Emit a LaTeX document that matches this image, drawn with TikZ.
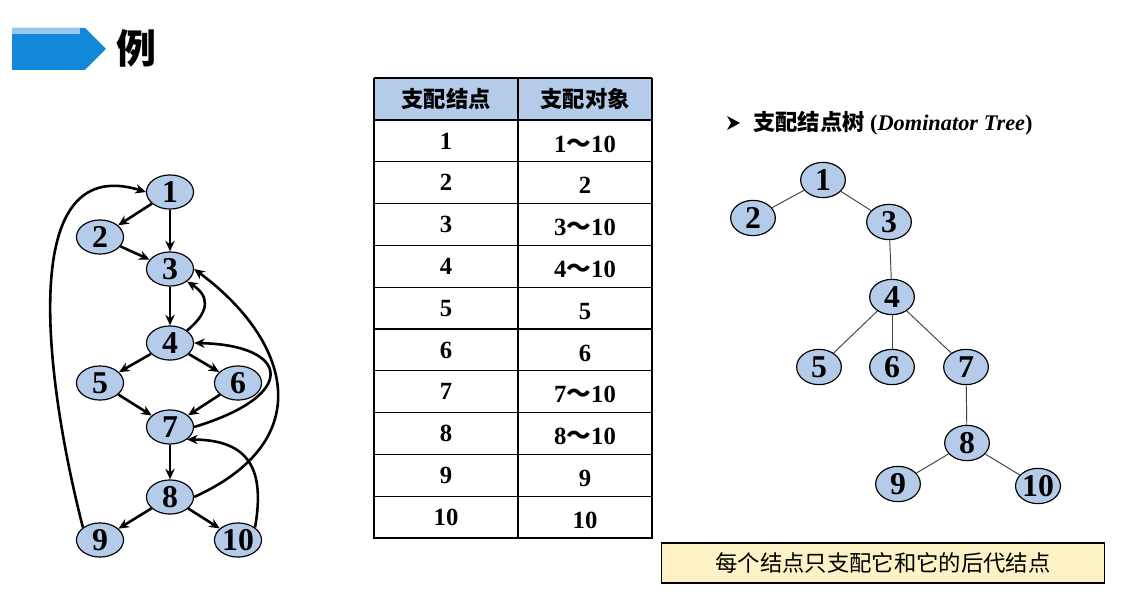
\documentclass[tikz,border=0pt]{standalone}
\usepackage{fontspec}
\setmainfont{Liberation Serif}
\newfontfamily\cjk{Noto Sans CJK SC}
\definecolor{nodeblue}{HTML}{B4CCEA}
\definecolor{bannerblue}{HTML}{1188D8}
\definecolor{notebg}{HTML}{FDF2C6}
\tikzstyle{vtx} = [draw,line width=1pt,fill=nodeblue,ellipse,minimum width=40pt,minimum height=29pt,inner sep=0pt,font=\fontsize{27}{27}\selectfont\bfseries]
\tikzstyle{tvtx} = [vtx,minimum width=38pt,minimum height=30pt]
\tikzstyle{cell} = [font=\fontsize{21}{21}\selectfont\bfseries]
\usetikzlibrary{shapes.geometric}
\usetikzlibrary{arrows.meta}

\begin{document}
\begin{tikzpicture}[x=0.85pt,y=-0.85pt,>={Stealth[length=9pt,width=8pt]},line width=2.2pt]
\useasboundingbox (0,0) rectangle (1129,602);

% Banner and title
    \fill[bannerblue] (12,28) -- (85,28) -- (106,49) -- (85,70) -- (12,70) -- cycle;
    \fill[bannerblue!45] (12,28) rectangle (80,34);
    \node[font=\cjk\bfseries\fontsize{34}{34}\selectfont] at (136,48) (title) {例};

% Flow graph
    \node[vtx] at (170,192) (n1) {1};
    \node[vtx] at (100,237) (n2) {2};
    \node[vtx] at (170,269) (n3) {3};
    \node[vtx] at (170,343) (n4) {4};
    \node[vtx] at (100,383) (n5) {5};
    \node[vtx] at (238,383) (n6) {6};
    \node[vtx] at (170,427) (n7) {7};
    \node[vtx] at (170,497) (n8) {8};
    \node[vtx] at (100,540) (n9) {9};
    \node[vtx] at (238,540) (n10) {10};
    \draw[->] (n1) -- (n2);
    \draw[->] (n1) -- (n3);
    \draw[->] (n2) -- (n3);
    \draw[->] (n3) -- (n4);
    \draw[->] (n4) -- (n5);
    \draw[->] (n4) -- (n6);
    \draw[->] (n5) -- (n7);
    \draw[->] (n6) -- (n7);
    \draw[->] (n7) -- (n8);
    \draw[->] (n8) -- (n9);
    \draw[->] (n8) -- (n10);
    \draw[->] (n4.north east) .. controls (212,310) and (208,295) .. (n3.south east);
    \draw[->] (n7.east) .. controls (300,395) and (290,345) .. (n4.east);
    \draw[->] (n8.east) .. controls (320,440) and (290,340) .. (n3.east);
    \draw[->] (n10.north east) .. controls (265,470) and (250,440) .. (n7.south east);
    \draw[->] (n9.north west) .. controls (50,400) and (10,150) .. (n1.west);

% Table
    \fill[nodeblue] (374,78) rectangle (652,120);
    \foreach \i in {0,...,10}
        \draw[line width=1pt] (374,{120+\i*41.8}) -- (652,{120+\i*41.8});
    \draw[line width=1pt] (374,78) -- (652,78);
    \draw[line width=1pt] (518,78) -- (518,538);
    \draw[line width=2.4pt] (374,78) -- (374,538) -- (652,538) -- (652,78);
    \node[font=\cjk\bfseries\fontsize{19}{19}\selectfont] at (446,99) (hdom) {支配结点};
    \node[font=\cjk\bfseries\fontsize{19}{19}\selectfont] at (585,99) (hobj) {支配对象};
    \foreach \k/\v [count=\i from 0] in {1/1{\cjk～}10,2/2,3/3{\cjk～}10,4/4{\cjk～}10,5/5,6/6,7/7{\cjk～}10,8/8{\cjk～}10,9/9,10/10}
    {
        \node[cell] at (446,{141+\i*41.8}) (k\i) {\k};
        \node[cell] at (585,{144+\i*41.8}) (v\i) {\v};
    }

% Dominator tree
    \fill (727,116) -- (740,123) -- (727,130) -- (731,123) -- cycle;
    \node[font=\cjk\bfseries\fontsize{19}{19}\selectfont,anchor=west] at (748,123) (tlabel)
        {支配结点树 {\rmfamily(\textit{Dominator Tree})}};
    \node[tvtx] at (823,180) (t1) {1};
    \node[tvtx] at (753,218) (t2) {2};
    \node[tvtx] at (889,222) (t3) {3};
    \node[tvtx] at (892,297) (t4) {4};
    \node[tvtx] at (819,367) (t5) {5};
    \node[tvtx] at (892,367) (t6) {6};
    \node[tvtx] at (966,367) (t7) {7};
    \node[tvtx] at (967,443) (t8) {8};
    \node[tvtx] at (898,484) (t9) {9};
    \node[tvtx] at (1038,486) (t10) {10};
    \foreach \a/\b in {t1/t2,t1/t3,t3/t4,t4/t5,t4/t6,t4/t7,t7/t8,t8/t9,t8/t10}
        \draw[line width=0.8pt,black!75] (\a) -- (\b);

% Note
    \node[draw,line width=1pt,fill=notebg,minimum width=376pt,minimum height=34pt,
          font=\cjk\fontsize{19}{19}\selectfont] at (883,563) (note) {每个结点只支配它和它的后代结点};

\end{tikzpicture}
\end{document}
